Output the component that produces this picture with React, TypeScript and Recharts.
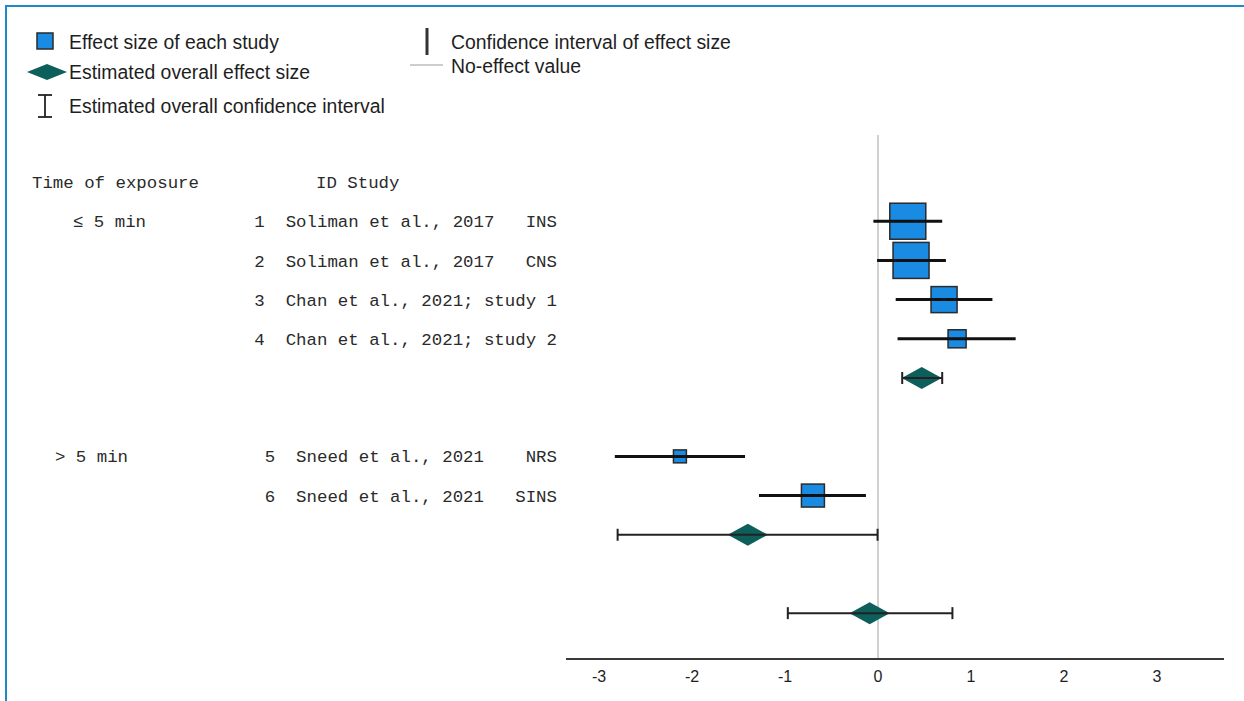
import React from 'react';
import { ScatterChart, Scatter, XAxis, YAxis, ReferenceLine } from 'recharts';

// ---------- data ----------
const headerLabels = ['Time of exposure', 'ID Study'];
const groupLabels = ['≤ 5 min', '> 5 min'];
const groupRows = [1, 7];

const studyIds = ['1', '2', '3', '4', '5', '6'];
const studyNames = [
  'Soliman et al., 2017   INS',
  'Soliman et al., 2017   CNS',
  'Chan et al., 2021; study 1',
  'Chan et al., 2021; study 2',
  'Sneed et al., 2021    NRS',
  'Sneed et al., 2021   SINS',
];
const studyRows = [1, 2, 3, 4, 7, 8];
const studyEffect = [0.32, 0.355, 0.71, 0.85, -2.13, -0.7];
const studyLower = [-0.05, -0.01, 0.19, 0.21, -2.83, -1.28];
const studyUpper = [0.69, 0.73, 1.23, 1.48, -1.43, -0.13];
const studyWeight = [30.2, 30.2, 15.8, 7.6, 3.9, 12.3];

const pooledLabels = ['Subtotal ≤ 5 min', 'Subtotal > 5 min', 'Overall'];
const pooledRows = [5, 9, 11];
const pooledEffect = [0.47, -1.4, -0.09];
const pooledLower = [0.26, -2.8, -0.97];
const pooledUpper = [0.69, -0.005, 0.8];

const xTicks = [-3, -2, -1, 0, 1, 2, 3];
const xDomain = [-3.355, 3.72];
const yDomain = [-1.2, 12.17];
const rowTicks = [0, 1, 2, 3, 4, 5, 6, 7, 8, 9, 10, 11];

// ---------- derived ----------
const studyData = studyEffect.map((e, i) => ({
  name: studyNames[i],
  x: e,
  y: studyRows[i],
  w: studyWeight[i],
}));
const studyCI = studyEffect.map((_, i) => [
  { x: studyLower[i], y: studyRows[i] },
  { x: studyUpper[i], y: studyRows[i] },
]);
const pooledData = pooledEffect.map((e, i) => ({
  name: pooledLabels[i],
  x: e,
  y: pooledRows[i],
}));
const pooledCI = pooledEffect.map((_, i) => [
  { x: pooledLower[i], y: pooledRows[i] },
  { x: pooledUpper[i], y: pooledRows[i] },
]);

// ---------- styles ----------
const SQUARE_FILL = '#1a8be3';
const DIAMOND_FILL = '#0c5f5b';
const TEXT = '#1e1e1e';
const MONO = '"Liberation Mono", "DejaVu Sans Mono", monospace';
const SANS = '"Liberation Sans", Arial, sans-serif';
const groupX = [73, 55];

const Square = (props: any) => {
  const { cx, cy, payload } = props;
  if (cx == null || cy == null) return <g />;
  const side = Math.sqrt(payload.w) * 6.55;
  return (
    <rect
      x={cx - side / 2}
      y={cy - side / 2}
      width={side}
      height={side}
      fill={SQUARE_FILL}
      stroke="#2a2a2a"
      strokeWidth={1.5}
    />
  );
};

const Diamond = (props: any) => {
  const { cx, cy } = props;
  if (cx == null || cy == null) return <g />;
  const hw = 20;
  const hh = 11;
  return (
    <polygon
      points={`${cx - hw},${cy} ${cx},${cy - hh} ${cx + hw},${cy} ${cx},${cy + hh}`}
      fill={DIAMOND_FILL}
    />
  );
};

const Empty = () => <g />;

const Cap = (props: any) => {
  const { cx, cy } = props;
  if (cx == null || cy == null) return <g />;
  return <line x1={cx} y1={cy - 6} x2={cx} y2={cy + 6} stroke="#222" strokeWidth={2} />;
};

const RowTick = (props: any) => {
  const { y, payload } = props;
  const v = payload.value;
  const parts: React.ReactNode[] = [];
  const common = {
    fontFamily: MONO,
    fontSize: 17.4,
    fill: '#2a2a2a',
    dy: '0.35em',
    xmlSpace: 'preserve' as any,
    style: { whiteSpace: 'pre' as const },
  };
  if (v === 0) {
    parts.push(
      <text key="h0" x={32} y={y} textAnchor="start" {...common}>
        {headerLabels[0]}
      </text>,
    );
    parts.push(
      <text key="h1" x={316} y={y} textAnchor="start" {...common}>
        {headerLabels[1]}
      </text>,
    );
  }
  const gi = groupRows.indexOf(v);
  if (gi >= 0) {
    parts.push(
      <text key="g" x={groupX[gi]} y={y} textAnchor="start" {...common}>
        {groupLabels[gi]}
      </text>,
    );
  }
  const si = studyRows.indexOf(v);
  if (si >= 0) {
    parts.push(
      <text key="s" x={557} y={y} textAnchor="end" {...common}>
        {`${studyIds[si]}  ${studyNames[si]}`}
      </text>,
    );
  }
  return <g>{parts}</g>;
};

const Legend = () => (
  <svg
    width={1244}
    height={130}
    style={{ position: 'absolute', left: 0, top: 0, pointerEvents: 'none' }}
  >
    <g fontFamily={SANS} fontSize={19.4} fill={TEXT}>
      <rect x={37} y={33} width={16} height={16} fill={SQUARE_FILL} stroke="#2a2a2a" strokeWidth={1.5} />
      <text x={69} y={42} dy="0.35em">Effect size of each study</text>
      <polygon points="27,72 47,64 67,72 47,80" fill={DIAMOND_FILL} />
      <text x={69} y={72} dy="0.35em">Estimated overall effect size</text>
      <line x1={45} y1={95} x2={45} y2={117} stroke="#222" strokeWidth={1.8} />
      <line x1={38} y1={95} x2={52} y2={95} stroke="#222" strokeWidth={1.8} />
      <line x1={38} y1={117} x2={52} y2={117} stroke="#222" strokeWidth={1.8} />
      <text x={69} y={106} dy="0.35em">Estimated overall confidence interval</text>
      <line x1={427} y1={28} x2={427} y2={55} stroke="#333" strokeWidth={3} />
      <text x={451} y={42} dy="0.35em">Confidence interval of effect size</text>
      <line x1={410} y1={65} x2={443} y2={65} stroke="#bdbdbd" strokeWidth={1.5} />
      <text x={451} y={66} dy="0.35em">No-effect value</text>
    </g>
  </svg>
);

export default function App() {
  return (
    <div style={{ position: 'absolute', left: 0, top: 0, width: 1244, height: 701, background: '#fff', overflow: 'hidden' }}>
      <div style={{ position: 'absolute', left: 5, top: 5, width: 1239, height: 2, background: '#1f8ac6' }} />
      <div style={{ position: 'absolute', left: 5, top: 5, width: 2, height: 696, background: '#1f8ac6' }} />
      <div style={{ position: 'absolute', left: 0, top: 0 }}>
        <ScatterChart width={1244} height={701} margin={{ top: 135, right: 20, bottom: 12, left: 6 }}>
          <XAxis
            type="number"
            dataKey="x"
            domain={xDomain}
            ticks={xTicks}
            allowDataOverflow
            axisLine={{ stroke: '#3a3a3a', strokeWidth: 2 }}
            tickLine={false}
            tickMargin={6}
            height={30}
            tick={{ fontFamily: SANS, fontSize: 16, fill: TEXT }}
            interval={0}
          />
          <YAxis
            type="number"
            dataKey="y"
            domain={yDomain}
            ticks={rowTicks}
            reversed
            allowDataOverflow
            width={560}
            axisLine={false}
            tickLine={false}
            interval={0}
            tick={(p: any) => <RowTick {...p} />}
          />
          <ReferenceLine x={0} stroke="#c2c2c2" strokeWidth={1.5} />
          <Scatter data={studyData} shape={Square} isAnimationActive={false} />
          {studyCI.map((seg, i) => (
            <Scatter
              key={`sci${i}`}
              data={seg}
              shape={Empty}
              line={{ stroke: '#111', strokeWidth: 3 }}
              isAnimationActive={false}
            />
          ))}
          <Scatter data={pooledData} shape={Diamond} isAnimationActive={false} />
          {pooledCI.map((seg, i) => (
            <Scatter
              key={`pci${i}`}
              data={seg}
              shape={Cap}
              line={{ stroke: '#222', strokeWidth: 2 }}
              isAnimationActive={false}
            />
          ))}
        </ScatterChart>
      </div>
      <Legend />
    </div>
  );
}
